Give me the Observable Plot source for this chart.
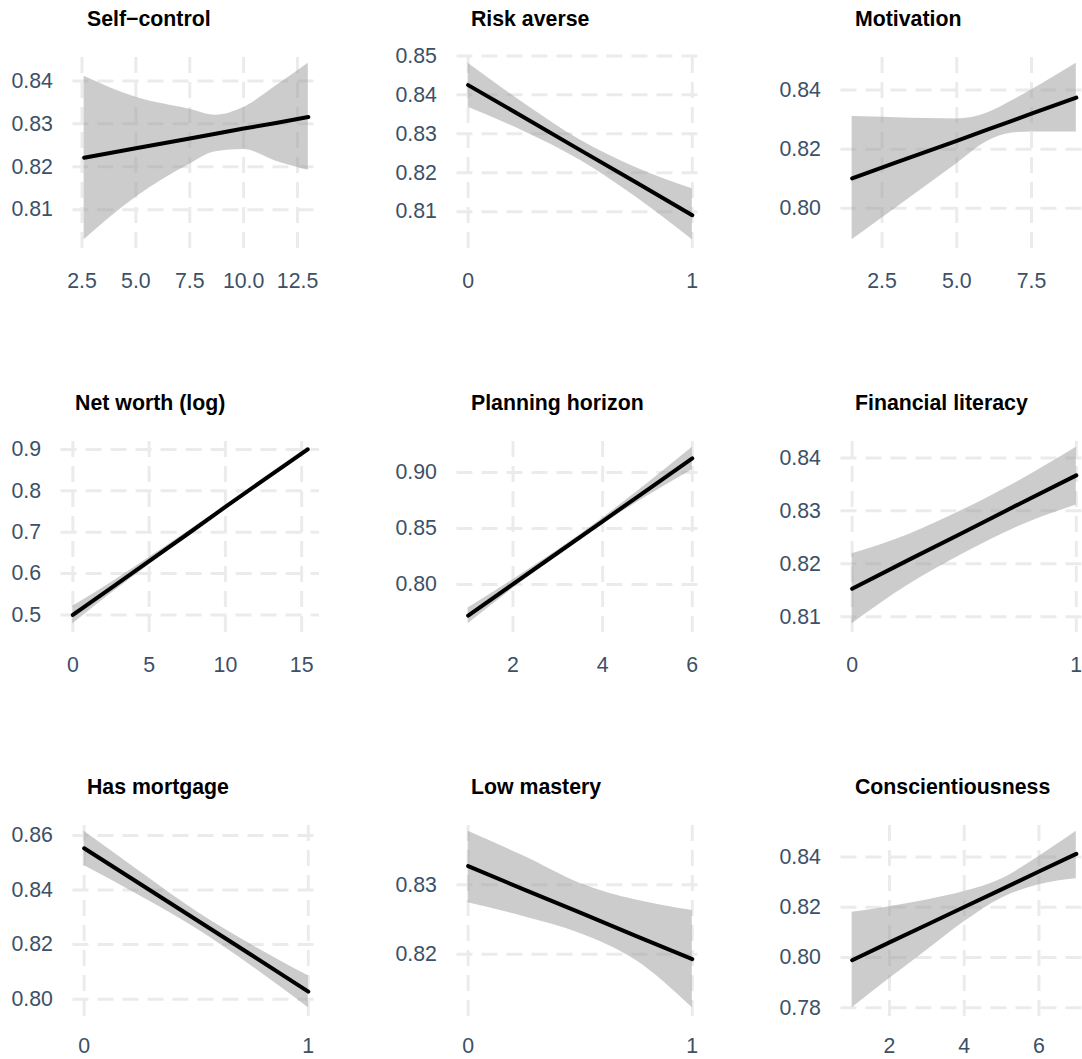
<!DOCTYPE html>
<html>
<head>
<meta charset="utf-8">
<script src="https://cdn.jsdelivr.net/npm/d3@7"></script>
<script src="https://cdn.jsdelivr.net/npm/@observablehq/plot@0.6"></script>
<style>
  body { margin: 0; background: #ffffff; }
  #grid { position: relative; width: 1082px; height: 1059px; overflow: hidden; background: #ffffff; }
  #grid svg { position: absolute; }
</style>
</head>
<body>
<div id="grid"></div>
<script>
// Predicted probability (line) with its confidence band, one panel per predictor.

const titles = ["Self\u2212control", "Risk averse", "Motivation",
                "Net worth (log)", "Planning horizon", "Financial literacy",
                "Has mortgage", "Low mastery", "Conscientiousness"];

// Self-control
const selfControlX     = [2.6, 5, 7.5, 8.7, 10, 11.5, 13];
const selfControlFit   = [0.8221, 0.8243, 0.8266, 0.8277, 0.8289, 0.8302, 0.8316];
const selfControlUpper = [0.8411, 0.8362, 0.8334, 0.8320, 0.8338, 0.8388, 0.8441];
const selfControlLower = [0.8030, 0.8129, 0.8206, 0.8235, 0.8240, 0.8213, 0.8192];
const selfControlXTicks = ["2.5", "5.0", "7.5", "10.0", "12.5"];
const selfControlYTicks = ["0.81", "0.82", "0.83", "0.84"];

// Risk averse
const riskAverseX     = [0, 0.25, 0.5, 0.75, 1];
const riskAverseFit   = [0.8425, 0.8342, 0.8258, 0.8175, 0.8091];
const riskAverseUpper = [0.8481, 0.8378, 0.8284, 0.8213, 0.8159];
const riskAverseLower = [0.8368, 0.8306, 0.8232, 0.8137, 0.8028];
const riskAverseXTicks = ["0", "1"];
const riskAverseYTicks = ["0.81", "0.82", "0.83", "0.84", "0.85"];

// Motivation
const motivationX     = [1.5, 3, 5, 6, 6.8, 7.5, 9];
const motivationFit   = [0.8101, 0.8156, 0.8228, 0.8265, 0.8294, 0.8320, 0.8374];
const motivationUpper = [0.8310, 0.8306, 0.8302, 0.8321, 0.8361, 0.8400, 0.8490];
const motivationLower = [0.7894, 0.8004, 0.8151, 0.8225, 0.8254, 0.8258, 0.8258];
const motivationXTicks = ["2.5", "5.0", "7.5"];
const motivationYTicks = ["0.80", "0.82", "0.84"];

// Net worth (log)
const netWorthX     = [0, 2.5, 5, 7.5, 10, 12.5, 15.4];
const netWorthFit   = [0.500, 0.565, 0.630, 0.695, 0.761, 0.826, 0.900];
const netWorthUpper = [0.521, 0.578, 0.639, 0.701, 0.765, 0.830, 0.905];
const netWorthLower = [0.479, 0.552, 0.621, 0.689, 0.757, 0.822, 0.895];
const netWorthXTicks = ["0", "5", "10", "15"];
const netWorthYTicks = ["0.5", "0.6", "0.7", "0.8", "0.9"];

// Planning horizon
const planningX     = [1, 2, 3, 4, 5, 6];
const planningFit   = [0.7722, 0.8003, 0.8283, 0.8564, 0.8845, 0.9125];
const planningUpper = [0.7790, 0.8043, 0.8308, 0.8592, 0.8900, 0.9224];
const planningLower = [0.7650, 0.7963, 0.8258, 0.8536, 0.8790, 0.9024];
const planningXTicks = ["2", "4", "6"];
const planningYTicks = ["0.80", "0.85", "0.90"];

// Financial literacy
const literacyX     = [0, 0.25, 0.5, 0.75, 1];
const literacyFit   = [0.8153, 0.8207, 0.8260, 0.8314, 0.8367];
const literacyUpper = [0.8219, 0.8255, 0.8303, 0.8358, 0.8420];
const literacyLower = [0.8087, 0.8160, 0.8220, 0.8272, 0.8311];
const literacyXTicks = ["0", "1"];
const literacyYTicks = ["0.81", "0.82", "0.83", "0.84"];

// Has mortgage
const mortgageX     = [0, 0.25, 0.5, 0.75, 1];
const mortgageFit   = [0.8553, 0.8422, 0.8291, 0.8160, 0.8028];
const mortgageUpper = [0.8615, 0.8467, 0.8322, 0.8198, 0.8086];
const mortgageLower = [0.8490, 0.8378, 0.8259, 0.8120, 0.7969];
const mortgageXTicks = ["0", "1"];
const mortgageYTicks = ["0.80", "0.82", "0.84", "0.86"];

// Low mastery
const masteryX     = [0, 0.25, 0.5, 0.75, 1];
const masteryFit   = [0.8327, 0.8293, 0.8260, 0.8226, 0.8193];
const masteryUpper = [0.8377, 0.8341, 0.8302, 0.8278, 0.8263];
const masteryLower = [0.8274, 0.8254, 0.8230, 0.8191, 0.8123];
const masteryXTicks = ["0", "1"];
const masteryYTicks = ["0.82", "0.83"];

// Conscientiousness
const conscX     = [1, 2, 3, 4, 5, 6, 7];
const conscFit   = [0.7989, 0.8060, 0.8130, 0.8201, 0.8271, 0.8342, 0.8412];
const conscUpper = [0.8180, 0.8202, 0.8229, 0.8262, 0.8312, 0.8402, 0.8502];
const conscLower = [0.7800, 0.7916, 0.8029, 0.8142, 0.8236, 0.8289, 0.8313];
const conscXTicks = ["2", "4", "6"];
const conscYTicks = ["0.78", "0.80", "0.82", "0.84"];

const series = [
  [selfControlX, selfControlFit, selfControlUpper, selfControlLower, selfControlXTicks, selfControlYTicks],
  [riskAverseX, riskAverseFit, riskAverseUpper, riskAverseLower, riskAverseXTicks, riskAverseYTicks],
  [motivationX, motivationFit, motivationUpper, motivationLower, motivationXTicks, motivationYTicks],
  [netWorthX, netWorthFit, netWorthUpper, netWorthLower, netWorthXTicks, netWorthYTicks],
  [planningX, planningFit, planningUpper, planningLower, planningXTicks, planningYTicks],
  [literacyX, literacyFit, literacyUpper, literacyLower, literacyXTicks, literacyYTicks],
  [mortgageX, mortgageFit, mortgageUpper, mortgageLower, mortgageXTicks, mortgageYTicks],
  [masteryX, masteryFit, masteryUpper, masteryLower, masteryXTicks, masteryYTicks],
  [conscX, conscFit, conscUpper, conscLower, conscXTicks, conscYTicks]
];

// Layout and style
const FONT = "'Liberation Sans', Arial, Helvetica, sans-serif";
const FONT_SIZE = 21.3;
const CELL = 384;          // pitch of the 3x3 grid
const SVG_H = 300;
const M_TOP = 54, M_BOTTOM = 52, M_RIGHT = 65;
const TEXT_COLOR = "#3c5066";
const GRID_COLOR = "#ebebeb";

const ctx = document.createElement("canvas").getContext("2d");
ctx.font = `${FONT_SIZE}px ${FONT}`;
const textWidth = s => ctx.measureText(s).width;

// ggplot-style 5% padding on either side of the data range
const expand = (lo, hi) => { const p = (hi - lo) * 0.05; return [lo - p, hi + p]; };

const grid = document.getElementById("grid");

series.forEach(([xs, fit, upper, lower, xTickLabels, yTickLabels], i) => {
  const row = Math.floor(i / 3), col = i % 3;
  const rows = xs.map((x, k) => ({x, fit: fit[k], upper: upper[k], lower: lower[k]}));
  const xTicks = xTickLabels.map(Number);
  const yTicks = yTickLabels.map(Number);
  const xLabel = new Map(xTicks.map((v, k) => [v, xTickLabels[k]]));
  const yLabel = new Map(yTicks.map((v, k) => [v, yTickLabels[k]]));

  const xDomain = expand(d3.min(xs), d3.max(xs));
  const yDomain = expand(d3.min([...lower, ...fit]), d3.max([...upper, ...fit]));
  const marginLeft = 11 + d3.max(yTickLabels, textWidth) + 20;
  // the last row sits against the page's bottom edge, so its tick labels ride a little higher
  const xPadding = row === 2 ? 21 : 24;

  const chart = Plot.plot({
    width: CELL,
    height: SVG_H,
    marginTop: M_TOP,
    marginBottom: M_BOTTOM,
    marginRight: M_RIGHT,
    marginLeft,
    style: {fontFamily: FONT, fontSize: `${FONT_SIZE}px`, color: TEXT_COLOR, background: "transparent", overflow: "visible"},
    x: {domain: xDomain, label: null},
    y: {domain: yDomain, label: null},
    marks: [
      Plot.ruleX(xTicks, {x: d => d, y1: yDomain[0], y2: yDomain[1], stroke: GRID_COLOR, strokeWidth: 3, strokeDasharray: "16,9"}),
      Plot.ruleY(yTicks, {y: d => d, x1: xDomain[0], x2: xDomain[1], stroke: GRID_COLOR, strokeWidth: 3, strokeDasharray: "16,9"}),
      Plot.areaY(rows, {x: "x", y1: "lower", y2: "upper", fill: "#999999", fillOpacity: 0.5, curve: "monotone-x"}),
      Plot.lineY(rows, {x: "x", y: "fit", stroke: "black", strokeWidth: 4, curve: "linear"}),
      Plot.axisX(xTicks, {tickSize: 0, tickPadding: xPadding, tickFormat: d => xLabel.get(d), label: null, fill: TEXT_COLOR}),
      Plot.axisY(yTicks, {tickSize: 0, tickPadding: 20, tickFormat: d => yLabel.get(d), label: null, fill: TEXT_COLOR}),
      Plot.text([titles[i]], {
        text: d => d, frameAnchor: "top-left", dx: 14, dy: -35.5,
        textAnchor: "start", lineAnchor: "middle",
        fontWeight: "bold", fontSize: FONT_SIZE, fill: "black"
      })
    ]
  });
  chart.style.left = `${col * CELL}px`;
  chart.style.top = `${row * CELL}px`;
  grid.appendChild(chart);
});
</script>
</body>
</html>
